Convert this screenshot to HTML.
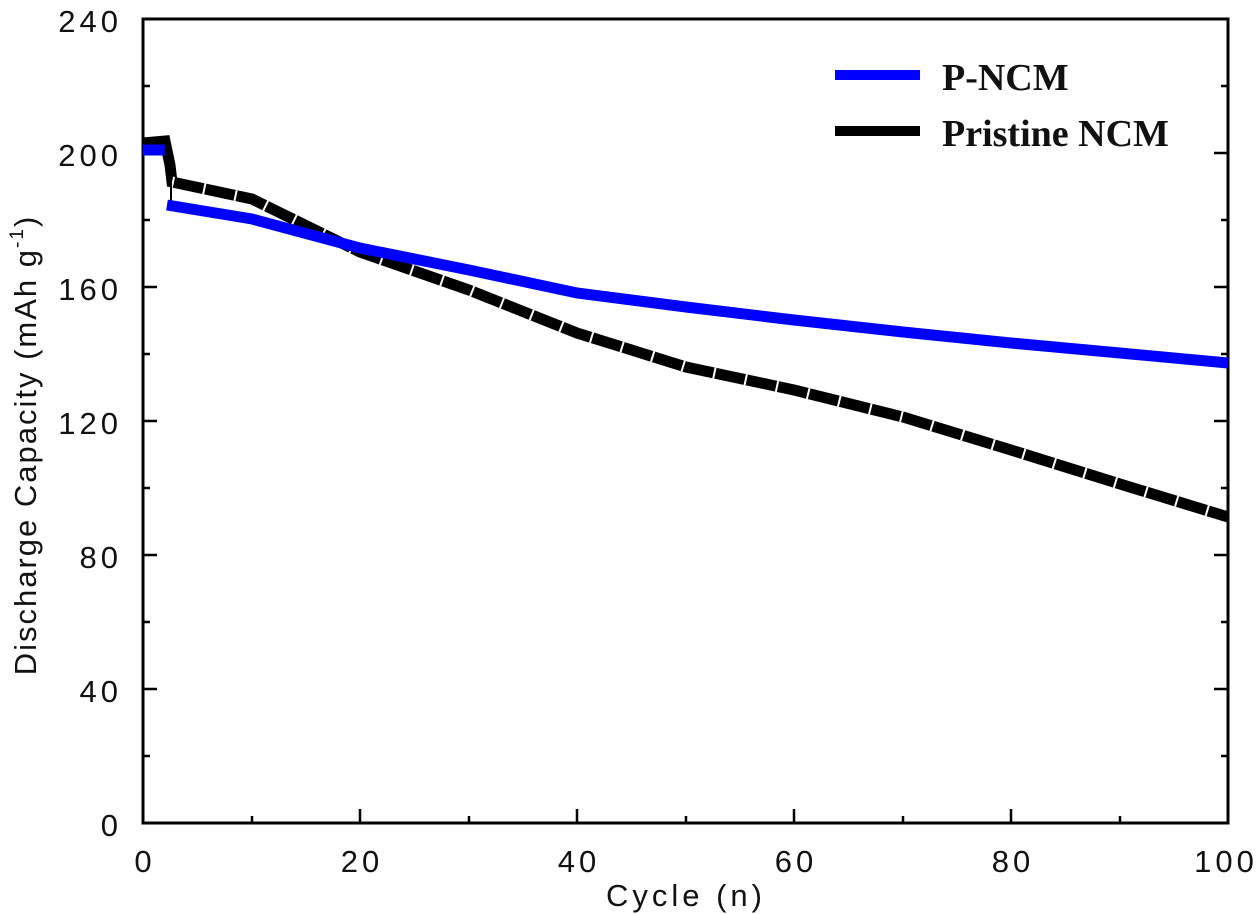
<!DOCTYPE html>
<html><head><style>body{margin:0;background:#fff}svg{display:block}</style></head><body>
<svg width="1260" height="914" xmlns="http://www.w3.org/2000/svg" font-family="Liberation Sans, sans-serif">
<rect width="1260" height="914" fill="#fff"/>
<g stroke="#000" stroke-width="3" fill="none">
<rect x="143" y="19" width="1085" height="804"/>
</g>
<g stroke="#000" stroke-width="2.5">
<path d="M252 823v-7M360 823v-14M469 823v-7M577 823v-14M686 823v-7M794 823v-14M903 823v-7M1011 823v-14M1120 823v-7"/>
<path d="M143 756h7M143 689h14M143 622h7M143 555h14M143 488h7M143 421h14M143 354h7M143 287h14M143 220h7M143 153h14M143 86h7"/>
<path d="M1228 756h-7M1228 689h-14M1228 622h-7M1228 555h-14M1228 488h-7M1228 421h-14M1228 354h-7M1228 287h-14M1228 220h-7M1228 153h-14M1228 86h-7"/>
</g>
<g font-size="31" fill="#111" text-anchor="end" letter-spacing="4">
<text x="122" y="32">240</text><text x="122" y="166">200</text><text x="122" y="300">160</text>
<text x="122" y="434">120</text><text x="122" y="568">80</text><text x="122" y="702">40</text><text x="122" y="836">0</text>
</g>
<g font-size="31" fill="#111" text-anchor="middle" letter-spacing="4">
<text x="145" y="872">0</text><text x="362" y="872">20</text><text x="579" y="872">40</text>
<text x="796" y="872">60</text><text x="1013" y="872">80</text><text x="1226" y="872">100</text>
<text x="686" y="906">Cycle (n)</text>
</g>
<text transform="translate(36,445) rotate(-90)" font-size="31" fill="#111" text-anchor="middle" letter-spacing="2">Discharge Capacity (mAh g<tspan font-size="19" dy="-13">-1</tspan><tspan dy="13">)</tspan></text>
<polyline fill="none" stroke="#000" stroke-width="11" points="143,143 165,141 170,165 172,182 252,199 360,252 469,290 577,333 686,367 794,390 903,417 1011,450 1120,484 1228,517"/>
<polyline fill="none" stroke="#fff" stroke-width="11" stroke-dasharray="2 30" points="172,182 252,199 360,252 469,290 577,333 686,367 794,390 903,417 1011,450 1120,484 1228,517"/>
<line x1="171" y1="160" x2="171" y2="205" stroke="#000" stroke-width="2"/>
<polyline fill="none" stroke="#0000ff" stroke-width="11" points="143,150 165,150"/>
<polyline fill="none" stroke="#0000ff" stroke-width="11" points="167,205 252,219 360,248 469,270 577,293 686,307 794,320 903,332 1011,343 1120,353 1228,363"/>
<line x1="835" y1="75" x2="920" y2="75" stroke="#0000ff" stroke-width="10"/>
<line x1="835" y1="131" x2="920" y2="131" stroke="#000" stroke-width="10"/>
<g font-family="Liberation Serif, serif" font-weight="bold" font-size="38" fill="#111">
<text x="942" y="90">P-NCM</text><text x="942" y="146">Pristine NCM</text>
</g>
</svg>
</body></html>
